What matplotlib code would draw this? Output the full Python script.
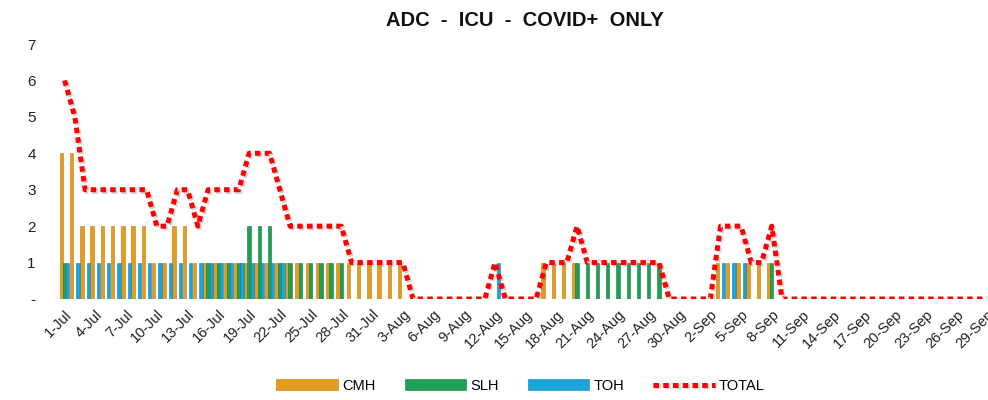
import numpy as np
import pandas as pd
import matplotlib
matplotlib.use("Agg")
import matplotlib.pyplot as plt
import matplotlib.patheffects as pe

plt.rcParams['font.family'] = ['Liberation Sans', 'DejaVu Sans']

# --- data (one value per day, 1-Jul .. 29-Sep) ---
dates = pd.date_range("2020-07-01", "2020-09-29", freq="D")
day_labels = [f"{d.day}-{d.strftime('%b')}" for d in dates]

CMH = [4, 4, 2, 2, 2, 2, 2, 2, 2, 1,
       1, 2, 2, 1, 1, 1, 1, 1, 1, 1,
       1, 1, 1, 1, 1, 1, 1, 1, 1, 1,
       1, 1, 1, 1, 0, 0, 0, 0, 0, 0,
       0, 0, 0, 0, 0, 0, 0, 1, 1, 1,
       1, 0, 0, 0, 0, 0, 0, 0, 0, 0,
       0, 0, 0, 0, 1, 1, 1, 1, 1, 1,
       0, 0, 0, 0, 0, 0, 0, 0, 0, 0,
       0, 0, 0, 0, 0, 0, 0, 0, 0, 0,
       0]
SLH = [1, 0, 0, 0, 0, 0, 0, 0, 0, 0,
       0, 0, 0, 0, 1, 1, 1, 1, 2, 2,
       2, 1, 1, 1, 1, 1, 1, 1, 0, 0,
       0, 0, 0, 0, 0, 0, 0, 0, 0, 0,
       0, 0, 0, 0, 0, 0, 0, 0, 0, 0,
       1, 1, 1, 1, 1, 1, 1, 1, 1, 0,
       0, 0, 0, 0, 0, 0, 0, 0, 0, 1,
       0, 0, 0, 0, 0, 0, 0, 0, 0, 0,
       0, 0, 0, 0, 0, 0, 0, 0, 0, 0,
       0]
TOH = [1, 1, 1, 1, 1, 1, 1, 1, 1, 1,
       1, 1, 1, 1, 1, 1, 1, 1, 1, 1,
       1, 1, 0, 0, 0, 0, 0, 0, 0, 0,
       0, 0, 0, 0, 0, 0, 0, 0, 0, 0,
       0, 0, 1, 0, 0, 0, 0, 0, 0, 0,
       0, 0, 0, 0, 0, 0, 0, 0, 0, 0,
       0, 0, 0, 0, 1, 1, 1, 0, 0, 0,
       0, 0, 0, 0, 0, 0, 0, 0, 0, 0,
       0, 0, 0, 0, 0, 0, 0, 0, 0, 0,
       0]
TOTAL = [6, 5, 3, 3, 3, 3, 3, 3, 3, 2,
         2, 3, 3, 2, 3, 3, 3, 3, 4, 4,
         4, 3, 2, 2, 2, 2, 2, 2, 1, 1,
         1, 1, 1, 1, 0, 0, 0, 0, 0, 0,
         0, 0, 1, 0, 0, 0, 0, 1, 1, 1,
         2, 1, 1, 1, 1, 1, 1, 1, 1, 0,
         0, 0, 0, 0, 2, 2, 2, 1, 1, 2,
         0, 0, 0, 0, 0, 0, 0, 0, 0, 0,
         0, 0, 0, 0, 0, 0, 0, 0, 0, 0,
         0]

y_ticks = [0, 1, 2, 3, 4, 5, 6, 7]
y_labels = ["-", "1", "2", "3", "4", "5", "6", "7"]

# --- style ---
C_CMH = "#E49C1C"
C_SLH = "#1F9E55"
C_TOH = "#1AA4DA"
C_TOT = "#FF0000"

x = np.arange(len(dates))
bw = 0.33
off = 0.31

fig = plt.figure(figsize=(9.88, 4.0), dpi=100)
ax = fig.add_axes([0.0602, 0.2525, 0.944, 0.6375])

b1 = ax.bar(x - off, CMH, width=bw, color=C_CMH, edgecolor="#C07A10", linewidth=0.4, label="CMH", zorder=2)
b2 = ax.bar(x, SLH, width=bw, color=C_SLH, edgecolor="#137A3E", linewidth=0.4, label="SLH", zorder=2)
b3 = ax.bar(x + off, TOH, width=bw, color=C_TOH, edgecolor="#1180B0", linewidth=0.4, label="TOH", zorder=2)
ln, = ax.plot(x, TOTAL, color=C_TOT, lw=3.6, linestyle=(0, (1.1, 0.85)), label="TOTAL", zorder=3,
              path_effects=[pe.SimpleLineShadow(offset=(1.2, -1.2), shadow_color="gray", alpha=0.35),
                            pe.Normal()])

ax.set_xlim(-0.5, len(dates) - 0.5)
ax.set_ylim(0, 7)
ax.set_yticks(y_ticks)
ax.set_yticklabels(y_labels, fontsize=11, color="#222222")
ax.tick_params(axis="y", length=0, pad=17)

ax.set_xticks(x[::3])
ax.set_xticklabels(day_labels[::3], rotation=45, ha="right", rotation_mode="anchor",
                   fontsize=10.5, color="#222222")
ax.tick_params(axis="x", length=0, pad=6)

for s in ax.spines.values():
    s.set_visible(False)

fig.text(0.531, 0.95, "ADC  -  ICU  -  COVID+  ONLY", ha="center", va="center",
         fontsize=14.5, fontweight="bold", color="#111111")

leg = fig.legend([b1, b2, b3, ln], ["CMH", "SLH", "TOH", "TOTAL"],
                 loc="lower center", bbox_to_anchor=(0.527, -0.015), ncol=4, frameon=False,
                 fontsize=10.5, handlelength=4.2, handleheight=0.75, columnspacing=2.0,
                 handletextpad=0.3)

fig.savefig("out.png", dpi=100)
